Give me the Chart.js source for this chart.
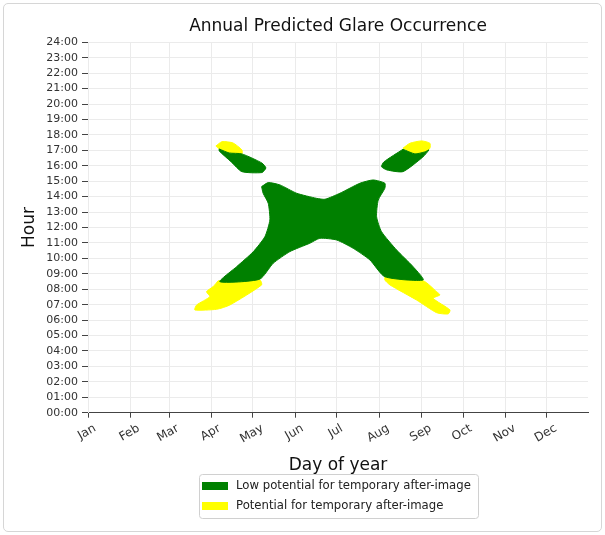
<!DOCTYPE html>
<html>
<head>
<meta charset="utf-8">
<script src="https://cdn.jsdelivr.net/npm/chart.js@4"></script>
<style>
  html, body { margin: 0; padding: 0; background: #fff; }
  #card { position: absolute; left: 3px; top: 3px; width: 597px; height: 527px; border: 1px solid #d6d6d6; border-radius: 5px; }
  #glare { position: absolute; left: 0; top: 0; }
</style>
</head>
<body>
<div id="card"></div>
<canvas id="glare" width="605" height="535"></canvas>
<script>
// DATA (day of year, hour of day)
const monthNames = ['Jan', 'Feb', 'Mar', 'Apr', 'May', 'Jun', 'Jul', 'Aug', 'Sep', 'Oct', 'Nov', 'Dec'];
const monthStartDays = [1, 32, 60, 91, 121, 152, 182, 213, 244, 274, 305, 335];
const seriesNames = ['Low potential for temporary after-image', 'Potential for temporary after-image'];

// green areas
const lowCentre = [
  [127.4, 14.65], [132.2, 14.91], [140.7, 14.76], [152.9, 14.22], [167.4, 13.89], [173.5, 13.83],
  [184.4, 14.22], [199, 14.87], [208.6, 15.08], [217.1, 14.87], [217.1, 14.54], [212.3, 13.78],
  [211.1, 12.7], [214.7, 11.73], [225.7, 10.54], [237.7, 9.46], [245, 8.6], [217.1, 8.81],
  [206.2, 9.9], [194.1, 10.65], [182, 11.19], [169.8, 11.3], [162.5, 10.98], [148, 10.44],
  [135.8, 9.68], [126, 8.65], [97, 8.49], [109.2, 9.46], [121.3, 10.43], [129.8, 11.41],
  [133.4, 12.49], [132.2, 13.57], [128.5, 14.22], [127.4, 14.65]
];
const lowUpperLeft = [
  [96.5, 17.09], [103.8, 16.83], [113, 16.77], [127.6, 16.18], [130.5, 15.86], [127.6, 15.56],
  [113, 15.62], [105.3, 16.25], [96.5, 16.96], [96.5, 17.09]
];
const lowUpperRight = [
  [230.3, 17.07], [216.4, 16.25], [214.7, 15.94], [218.6, 15.73], [230.3, 15.62], [244.8, 16.57],
  [249.2, 17.03], [246.3, 16.9], [239, 16.77], [230.3, 17.07]
];

// yellow areas
const potLowerLeft = [
  [95.8, 8.55], [126.1, 8.6], [127.4, 8.28], [104.3, 6.98], [94.6, 6.7], [78.8, 6.66],
  [80.1, 6.98], [89.7, 7.52], [87.3, 7.84], [92.1, 8.17], [95.8, 8.55]
];
const potLowerRight = [
  [217.1, 8.81], [245, 8.55], [254.8, 7.84], [257.2, 7.63], [252.3, 7.41], [264.5, 6.66],
  [263.2, 6.4], [254.8, 6.48], [240.2, 7.3], [220.8, 8.28], [217.1, 8.6], [217.1, 8.81]
];
const potUpperLeft = [
  [94.1, 17.28], [98.5, 17.56], [106.5, 17.48], [113, 17.03], [113, 16.77], [103.8, 16.83],
  [96.5, 17.09], [94.1, 17.28]
];
const potUpperRight = [
  [230.3, 17.14], [235.4, 17.46], [243.9, 17.61], [249.9, 17.46], [249.9, 17.14], [246.3, 16.9],
  [239, 16.77], [230.3, 17.14]
];

const GREEN = '#008000';
const YELLOW = '#ffff00';
const gridColor = '#ebebeb';
const inkColor = '#333';

Chart.defaults.font.family = '"DejaVu Sans", sans-serif';

function area(label, pts, color) {
  return {
    label: label,
    data: pts.map(p => ({ x: p[0], y: p[1] })),
    showLine: true,
    fill: 'shape',
    tension: 0.2,
    pointRadius: 0,
    borderWidth: 1,
    borderColor: color,
    backgroundColor: color
  };
}

// TICK LABELS + LEGEND BOX
const overlay = {
  id: 'overlay',
  afterDraw(chart) {
    const { ctx } = chart;
    const xs = chart.scales.x;
    const a = Math.PI / 6;
    ctx.save();
    ctx.font = '12px "DejaVu Sans"';
    ctx.fillStyle = inkColor;
    ctx.textAlign = 'center';
    ctx.textBaseline = 'middle';
    monthNames.forEach((m, i) => {
      const x = xs.getPixelForValue(monthStartDays[i]);
      const w = ctx.measureText(m).width;
      const cy = xs.top + 11 + (w * Math.sin(a) + 9 * Math.cos(a)) / 2;
      ctx.save();
      ctx.translate(x - 1, cy);
      ctx.rotate(-a);
      ctx.fillText(m, 0, 0);
      ctx.restore();
    });

    // legend
    ctx.fillStyle = '#fff';
    ctx.strokeStyle = '#d0d0d0';
    ctx.lineWidth = 1;
    ctx.beginPath();
    ctx.roundRect(199.5, 474.5, 279, 44, 3);
    ctx.fill();
    ctx.stroke();
    [GREEN, YELLOW].forEach((c, i) => {
      const y = 486 + i * 20;
      ctx.fillStyle = c;
      ctx.fillRect(202, y - 4, 26, 8);
      ctx.fillStyle = '#222';
      ctx.textAlign = 'left';
      ctx.font = '11.7px "DejaVu Sans"';
      ctx.fillText(seriesNames[i], 236, y);
    });
    ctx.restore();
  }
};

new Chart(document.getElementById('glare'), {
  type: 'scatter',
  data: {
    datasets: [
      area(seriesNames[0], lowCentre, GREEN),
      area(seriesNames[0], lowUpperLeft, GREEN),
      area(seriesNames[0], lowUpperRight, GREEN),
      area(seriesNames[1], potLowerLeft, YELLOW),
      area(seriesNames[1], potLowerRight, YELLOW),
      area(seriesNames[1], potUpperLeft, YELLOW),
      area(seriesNames[1], potUpperRight, YELLOW)
    ]
  },
  options: {
    responsive: false,
    animation: false,
    layout: { padding: { left: 0, right: 17, top: 0, bottom: 58.3 } },
    plugins: {
      legend: { display: false },
      tooltip: { enabled: false },
      title: {
        display: true,
        fullSize: false,
        text: 'Annual Predicted Glare Occurrence',
        color: '#111',
        font: { size: 17, weight: 'normal' },
        padding: { top: 16.8, bottom: 5.1 }
      }
    },
    scales: {
      x: {
        type: 'linear',
        min: 1,
        max: 365,
        afterBuildTicks: s => { s.ticks = monthStartDays.map(v => ({ value: v })); },
        afterFit: s => { s.height = 64; },
        ticks: { display: false },
        grid: { color: gridColor, tickColor: '#444', tickLength: 5 },
        border: { color: '#444' },
        title: { display: true, text: 'Day of year', color: '#111', font: { size: 17 }, padding: { top: 0, bottom: 0.5 } }
      },
      y: {
        min: 0,
        max: 24,
        afterFit: s => { s.width = 88; },
        ticks: {
          stepSize: 1,
          autoSkip: false,
          padding: 4,
          color: inkColor,
          font: { size: 11 },
          callback: v => String(v).padStart(2, '0') + ':00'
        },
        grid: { color: gridColor, tickColor: '#444', tickLength: 6 },
        border: { color: gridColor },
        title: { display: true, text: 'Hour', color: '#111', font: { size: 17 }, padding: { top: 19.8, bottom: 0 } }
      }
    }
  },
  plugins: [overlay]
});
</script>
</body>
</html>
